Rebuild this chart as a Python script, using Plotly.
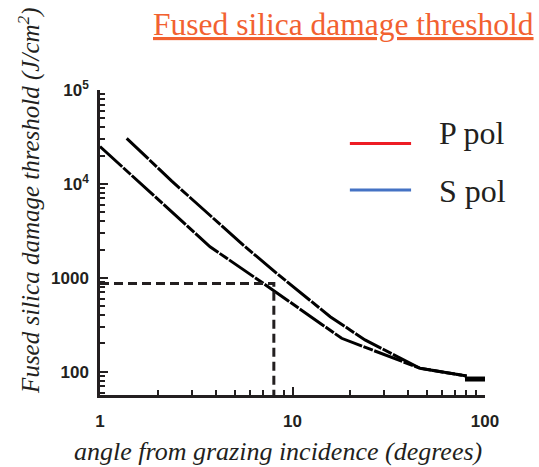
import plotly.graph_objects as go

# ---- data ----
angle_p = [1, 3.73, 7.05, 15.7, 18.0, 45.9, 80.3]
thresh_p = [25000, 2140, 873, 278, 227, 109, 90]
angle_s = [1.376, 2.36, 5.55, 8.28, 15.7, 23.8, 45.9, 80.3]
thresh_s = [30600, 10700, 2230, 1117, 385, 218, 109, 90]
tail_x = [78.7, 100]
tail_y = [83.6, 83.6]
ref_x = [1, 8, 8]
ref_y = [870, 870, 56]
series_names = ["P pol", "S pol"]
series_colors = ["#ED1C24", "#4472C4"]
x_tickvals = [1, 10, 100]
x_ticktext = ["1", "10", "100"]
y_tickvals = [100, 1000, 1e4, 1e5]
y_ticktext = ["100", "1000", "10<sup>4</sup>", "10<sup>5</sup>"]
x_minor = [2, 3, 4, 5, 6, 7, 8, 9, 20, 30, 40, 50, 60, 70, 80, 90]
y_minor = [60, 70, 80, 90, 200, 300, 400, 500, 600, 700, 800, 900,
           2000, 3000, 4000, 5000, 6000, 7000, 8000, 9000,
           20000, 30000, 40000, 50000, 60000, 70000, 80000, 90000]

INK = "#231F20"
curve_dash = "30px,1.5px,10px,1.5px"

fig = go.Figure()
fig.add_trace(go.Scatter(x=angle_p, y=thresh_p, mode="lines", name=series_names[0],
                         line=dict(color="black", width=3, dash=curve_dash), showlegend=False))
fig.add_trace(go.Scatter(x=angle_s, y=thresh_s, mode="lines", name=series_names[1],
                         line=dict(color="black", width=3, dash=curve_dash), showlegend=False))
fig.add_trace(go.Scatter(x=tail_x, y=tail_y, mode="lines", showlegend=False,
                         line=dict(color="black", width=5)))
fig.add_trace(go.Scatter(x=ref_x, y=ref_y, mode="lines", showlegend=False,
                         line=dict(color=INK, width=3, dash="9px,5px")))

tickfont = dict(family="Liberation Sans", size=17, color=INK, weight="bold")
axis_common = dict(showline=True, linecolor=INK, linewidth=2.5, showgrid=False, zeroline=False,
                   ticks="inside", ticklen=8, tickwidth=2, tickcolor=INK, tickfont=tickfont)

fig.update_xaxes(type="log", range=[0, 2], tickmode="array", tickvals=x_tickvals,
                 ticktext=x_ticktext, ticklabelstandoff=9,
                 minor=dict(tickmode="array", tickvals=x_minor, ticks="inside", ticklen=5,
                            tickwidth=1.5, tickcolor=INK),
                 **axis_common)
fig.update_yaxes(type="log", range=[1.752, 5.0], tickmode="array", tickvals=y_tickvals,
                 ticktext=y_ticktext, ticklabelstandoff=5,
                 minor=dict(tickmode="array", tickvals=y_minor, ticks="inside", ticklen=5,
                            tickwidth=1.5, tickcolor=INK),
                 **axis_common)

annotations = [
    dict(text="<u>Fused silica damage threshold</u>", x=1.133, y=1.216, xref="paper", yref="paper",
         xanchor="right", yanchor="middle", showarrow=False,
         font=dict(family="Liberation Serif", size=31.5, color="#F26130")),
    dict(text="<i>Fused silica damage threshold (J/cm<sup>2</sup>)</i>", x=-0.185, y=0.639,
         xref="paper", yref="paper", xanchor="center", yanchor="middle", textangle=-90,
         showarrow=False, font=dict(family="Liberation Serif", size=25, color=INK)),
    dict(text="<i>angle from grazing incidence (degrees)</i>", x=0.462, y=-0.184,
         xref="paper", yref="paper", xanchor="center", yanchor="middle", showarrow=False,
         font=dict(family="Liberation Serif", size=26, color=INK)),
]
legend_y = [0.859, 0.669]
legend_line_y = [0.825, 0.672]
shapes = []
for name, color, ty, ly in zip(series_names, series_colors, legend_y, legend_line_y):
    shapes.append(dict(type="line", xref="paper", yref="paper", x0=0.649, x1=0.808, y0=ly, y1=ly,
                       line=dict(color=color, width=3)))
    annotations.append(dict(text=name, x=0.875, y=ty, xref="paper", yref="paper",
                            xanchor="left", yanchor="middle", showarrow=False,
                            font=dict(family="Liberation Serif", size=32, color=INK)))

fig.update_layout(width=539, height=467, margin=dict(l=100, r=54, t=90, b=72),
                  paper_bgcolor="white", plot_bgcolor="white",
                  annotations=annotations, shapes=shapes, showlegend=False)

# remove the page's default body margin so the figure fills the window exactly
fig.write_html("out.html", config={"displayModeBar": False},
               post_script="document.body.style.margin='0px';document.body.style.overflow='hidden';")
